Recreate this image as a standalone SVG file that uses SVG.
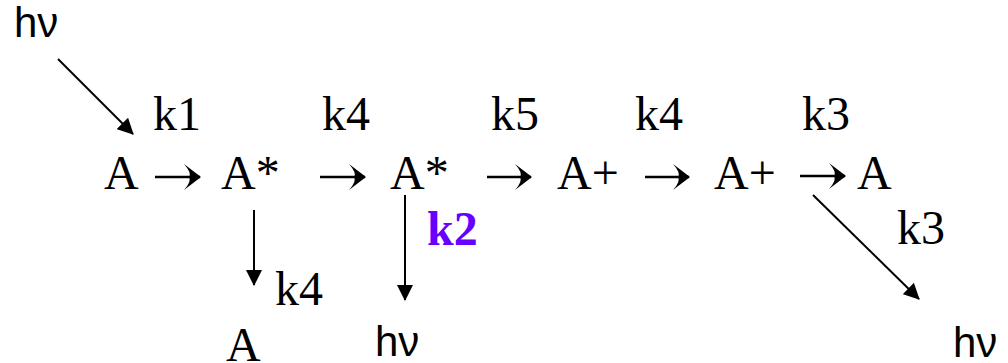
<svg xmlns="http://www.w3.org/2000/svg" width="1008" height="363" viewBox="0 0 1008 363">
<style>
.s{font-family:"Liberation Serif","Times New Roman",serif;font-size:48px;fill:#000}
.h{font-family:"Liberation Sans",Arial,sans-serif;font-size:42px;fill:#000}
.b{font-family:"Liberation Serif","Times New Roman",serif;font-size:48px;font-weight:bold;fill:#6600ff}
.c{stroke:#000;stroke-width:2;fill:none;marker-end:url(#ah)}
.r{stroke:#000;stroke-width:2.5;fill:none;marker-end:url(#bh)}
</style>
<defs>
<marker id="ah" markerWidth="16" markerHeight="16" viewBox="0 0 16 16" refX="15" refY="8" orient="auto" markerUnits="userSpaceOnUse">
<path d="M0,0 L16,8 L0,16 Z" fill="#000"/>
</marker>
<marker id="bh" markerWidth="18" markerHeight="26" viewBox="0 0 18 26" refX="17" refY="13" orient="auto" markerUnits="userSpaceOnUse">
<path d="M18,13 L1,0 Q9,9 6,13 Q9,17 1,26 Z" fill="#000"/>
</marker>
</defs>
<rect width="1008" height="363" fill="#fff"/>
<g id="connectors">
<line class="c" x1="58" y1="59" x2="133" y2="134"/>
<line class="c" x1="254" y1="210" x2="254" y2="285"/>
<line class="c" x1="405" y1="195" x2="405" y2="300"/>
<line class="c" x1="813" y1="195" x2="919" y2="299"/>
<line class="r" x1="155" y1="177" x2="200" y2="177"/>
<line class="r" x1="320" y1="177" x2="365" y2="177"/>
<line class="r" x1="487" y1="177" x2="531" y2="177"/>
<line class="r" x1="645" y1="177" x2="689" y2="177"/>
<line class="r" x1="800" y1="176" x2="845" y2="176"/>
</g>
<g id="n-hv-top"><text class="h" x="14" y="37">hν</text></g>
<g id="n-rates">
<text class="s" x="153" y="130">k1</text>
<text class="s" x="322" y="130">k4</text>
<text class="s" x="491" y="130">k5</text>
<text class="s" x="635" y="130">k4</text>
<text class="s" x="802" y="130">k3</text>
</g>
<g id="n-A0"><text class="s" x="104" y="189">A</text></g>
<g id="n-Astar1"><text class="s" x="221" y="189">A*</text></g>
<g id="n-Astar2"><text class="s" x="390" y="189">A*</text></g>
<g id="n-Aplus1"><text class="s" x="557" y="189">A+</text></g>
<g id="n-Aplus2"><text class="s" x="714" y="189">A+</text></g>
<g id="n-A-end"><text class="s" x="857" y="189">A</text></g>
<g id="n-k4-low"><text class="s" x="275" y="305">k4</text></g>
<g id="n-A-low"><text class="s" x="226" y="361">A</text></g>
<g id="n-k2"><text class="b" x="427" y="245">k2</text></g>
<g id="n-hv-mid"><text class="h" x="375" y="356">hν</text></g>
<g id="n-k3-low"><text class="s" x="897" y="244">k3</text></g>
<g id="n-hv-right"><text class="h" x="953" y="357">hν</text></g>
</svg>
